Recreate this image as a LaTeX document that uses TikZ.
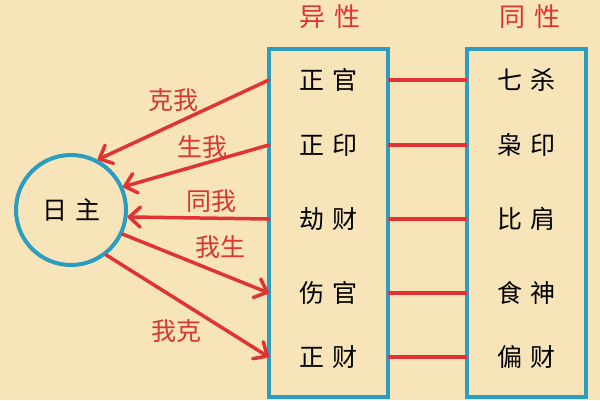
\documentclass[tikz,border=0pt]{standalone}
\usepackage{fontspec}
\newfontfamily\cjk{Noto Sans CJK SC}
\usepackage{tikz}
\usetikzlibrary{arrows.meta}
\definecolor{bg}{HTML}{F7E4B8}
\definecolor{lan}{HTML}{2A9DC0}
\definecolor{hong}{HTML}{E03434}
\definecolor{hongzi}{HTML}{D8372F}

\begin{document}
\begin{tikzpicture}%
        [x=1pt, y=-1pt,
        box/.style={draw=lan, line width=4pt},
        item/.style={inner sep=0pt, minimum width=119pt, minimum height=30pt, font=\cjk\fontsize{25}{30}\selectfont},
        head/.style={inner sep=0pt, text=hongzi, font=\cjk\fontsize{26}{30}\selectfont},
        rel/.style={inner sep=0pt, text=hongzi, font=\cjk\fontsize{25}{30}\selectfont},
        link/.style={draw=hong, line width=4pt},
        jian/.style={draw=hong, line width=3.5pt, line cap=round, -{Straight Barb[length=11pt, width=20pt, round]}}]

    %% Background
    \fill[bg] (0,0) rectangle (600,400);
    \useasboundingbox (0,0) rectangle (600,400);

    %% Headers
    \node[head] (yixing) at (330,17) {异\hspace{9pt}性};
    \node[head] (tongxing) at (530,17) {同\hspace{9pt}性};

    %% Boxes
    \draw[box] (269,49) rectangle (388,397);
    \draw[box] (467,49) rectangle (586,397);

    %%
    %% Rows
    %%
    \node[item] (yx1) at (328.5,80)  {正\hspace{8pt}官};
    \node[item] (yx2) at (328.5,145) {正\hspace{8pt}印};
    \node[item] (yx3) at (328.5,219) {劫\hspace{8pt}财};
    \node[item] (yx4) at (328.5,293) {伤\hspace{8pt}官};
    \node[item] (yx5) at (328.5,357) {正\hspace{8pt}财};

    \node[item] (tx1) at (526.5,80)  {七\hspace{8pt}杀};
    \node[item] (tx2) at (526.5,145) {枭\hspace{8pt}印};
    \node[item] (tx3) at (526.5,219) {比\hspace{8pt}肩};
    \node[item] (tx4) at (526.5,293) {食\hspace{8pt}神};
    \node[item] (tx5) at (526.5,357) {偏\hspace{8pt}财};

    \foreach \i in {1,...,5}
        \draw[link] (yx\i.east) -- (tx\i.west);

    %%
    %% Day master and relations
    %%
    \node[circle, draw=lan, line width=4pt, minimum size=110pt, inner sep=0pt,
          font=\cjk\fontsize{25}{30}\selectfont] (rizhu) at (71,210) {日\hspace{8pt}主};

    \draw[jian] (yx1.west) -- (rizhu.62);
    \draw[jian] (yx2.west) -- (rizhu.24);
    \draw[jian] (yx3.west) -- (rizhu.-7);
    \draw[jian] (rizhu.-25) -- (yx4.west);
    \draw[jian] (rizhu.-52) -- (yx5.west);

    \node[rel] (kewo)    at (173,100) {克我};
    \node[rel] (shengwo) at (202,147) {生我};
    \node[rel] (tongwo)  at (211,201) {同我};
    \node[rel] (wosheng) at (220,247) {我生};
    \node[rel] (woke)    at (176,331) {我克};
\end{tikzpicture}
\end{document}
